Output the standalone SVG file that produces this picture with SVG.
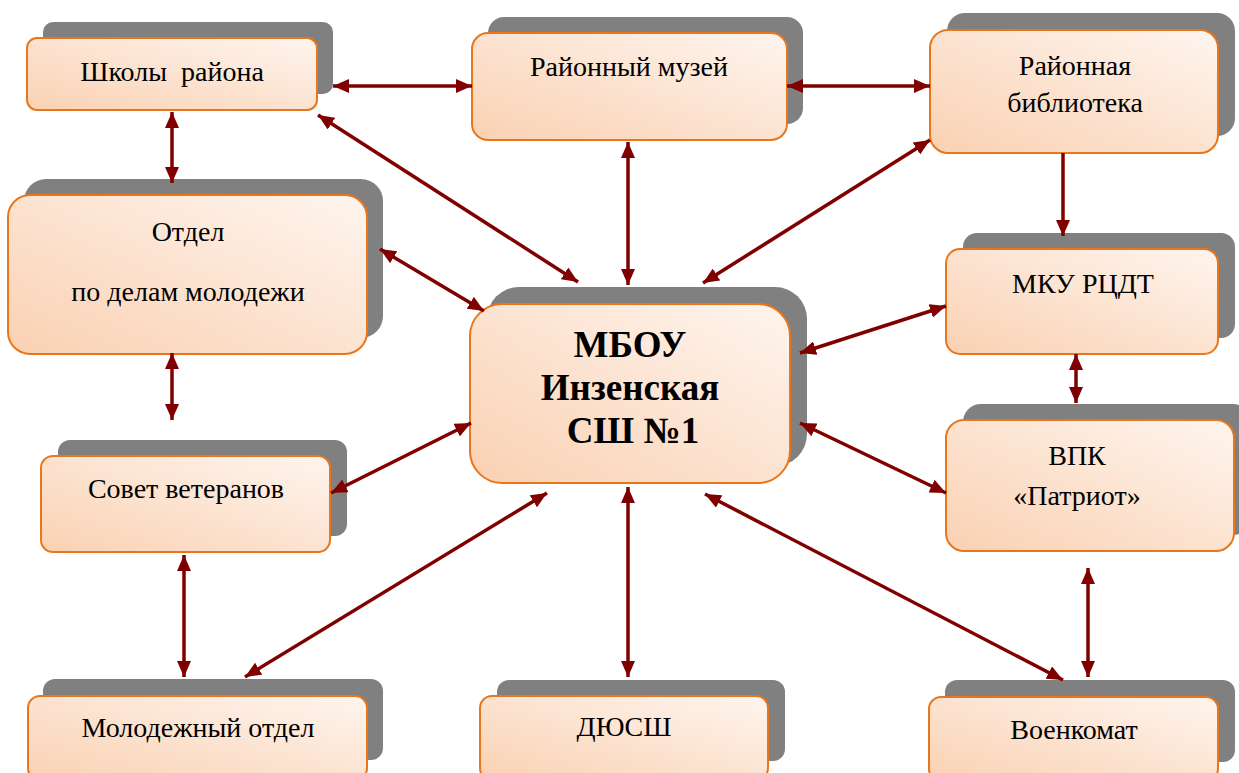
<svg xmlns="http://www.w3.org/2000/svg" width="1239" height="773" viewBox="0 0 1239 773">
<style>
.sh{fill:#808080}
.bx{fill:url(#g);stroke:#E8761C;stroke-width:2}
.t{font-family:"Liberation Serif","Times New Roman",serif;font-size:28px;fill:#000;text-anchor:middle;white-space:pre}
.tb{font-family:"Liberation Serif","Times New Roman",serif;font-size:37px;font-weight:bold;fill:#000;text-anchor:middle;white-space:pre}
.c line{stroke:#800000;stroke-width:3.5;marker-end:url(#ah)}
.c line.b{marker-start:url(#ah)}
</style>
<defs>
<linearGradient id="g" x1="0" y1="1" x2="1" y2="0">
<stop offset="0" stop-color="#FAD1B2"/>
<stop offset="1" stop-color="#FEF5EF"/>
</linearGradient>
<marker id="ah" viewBox="0 0 16 14" refX="16" refY="7" markerWidth="16" markerHeight="14" markerUnits="userSpaceOnUse" orient="auto-start-reverse">
<path d="M0,0 L16,7 L0,14 z" fill="#800000"/>
</marker>
</defs>
<rect width="1239" height="773" fill="#fff"/>

<g id="shkoly">
<rect class="sh" x="43" y="22" width="290" height="72" rx="10"/>
<rect class="bx" x="27" y="38" width="290" height="72" rx="10"/>
<text class="t" x="172" y="81" xml:space="preserve">Школы  района</text>
</g>
<g id="muzey">
<rect class="sh" x="488" y="17" width="315" height="107" rx="16"/>
<rect class="bx" x="472" y="33" width="315" height="107" rx="16"/>
<text class="t" x="629" y="76">Районный музей</text>
</g>
<g id="biblioteka">
<rect class="sh" x="947" y="13" width="288" height="123" rx="18"/>
<rect class="bx" x="930" y="30" width="288" height="123" rx="18"/>
<text class="t" x="1075" y="75">Районная</text>
<text class="t" x="1075" y="112">библиотека</text>
</g>
<g id="otdel">
<rect class="sh" x="24" y="179" width="359" height="159" rx="22"/>
<rect class="bx" x="8" y="195" width="359" height="159" rx="22"/>
<text class="t" x="188" y="241">Отдел</text>
<text class="t" x="188" y="301">по делам молодежи</text>
</g>
<g id="mbou">
<rect class="sh" x="487" y="287" width="320" height="179" rx="32"/>
<rect class="bx" x="470" y="304" width="320" height="179" rx="32"/>
<text class="tb" x="630" y="357">МБОУ</text>
<text class="tb" x="630" y="400">Инзенская</text>
<text class="tb" x="633" y="443">СШ №1</text>
</g>
<g id="mku">
<rect class="sh" x="963" y="233" width="272" height="105" rx="14"/>
<rect class="bx" x="946" y="249" width="272" height="105" rx="14"/>
<text class="t" x="1083" y="293">МКУ РЦДТ</text>
</g>
<g id="sovet">
<rect class="sh" x="58" y="440" width="289" height="96" rx="12"/>
<rect class="bx" x="41" y="456" width="289" height="96" rx="12"/>
<text class="t" x="186" y="498">Совет ветеранов</text>
</g>
<g id="vpk">
<rect class="sh" x="963" y="404" width="288" height="131" rx="18"/>
<rect class="bx" x="946" y="420" width="288" height="131" rx="18"/>
<text class="t" x="1077" y="465">ВПК</text>
<text class="t" x="1077" y="505">«Патриот»</text>
</g>
<g id="molodezhny">
<rect class="sh" x="43" y="679" width="340" height="81" rx="12"/>
<rect class="bx" x="28" y="696" width="339" height="84" rx="12"/>
<text class="t" x="198" y="737">Молодежный отдел</text>
</g>
<g id="dyussh">
<rect class="sh" x="497" y="680" width="288" height="81" rx="12"/>
<rect class="bx" x="480" y="696" width="288" height="84" rx="12"/>
<text class="t" x="624" y="736">ДЮСШ</text>
</g>
<g id="voenkomat">
<rect class="sh" x="945" y="680" width="290" height="82" rx="12"/>
<rect class="bx" x="929" y="697" width="289" height="84" rx="12"/>
<text class="t" x="1074" y="739">Военкомат</text>
</g>

<g id="connectors" class="c">
<line class="b" x1="333" y1="86" x2="472" y2="86"/>
<line class="b" x1="787" y1="86" x2="930" y2="86"/>
<line class="b" x1="318" y1="115" x2="578" y2="282"/>
<line class="b" x1="628" y1="142" x2="628" y2="285"/>
<line class="b" x1="930" y1="140" x2="703" y2="283"/>
<line x1="1063" y1="153" x2="1063" y2="236"/>
<line class="b" x1="172" y1="112" x2="172" y2="183"/>
<line class="b" x1="380" y1="249" x2="484" y2="311"/>
<line class="b" x1="172" y1="353" x2="172" y2="420"/>
<line class="b" x1="946" y1="306" x2="800" y2="353"/>
<line class="b" x1="1076" y1="354" x2="1076" y2="403"/>
<line class="b" x1="331" y1="493" x2="471" y2="423"/>
<line class="b" x1="800" y1="423" x2="946" y2="493"/>
<line class="b" x1="184" y1="555" x2="184" y2="677"/>
<line class="b" x1="547" y1="493" x2="245" y2="677"/>
<line class="b" x1="628" y1="487" x2="628" y2="677"/>
<line class="b" x1="705" y1="494" x2="1063" y2="680"/>
<line class="b" x1="1088" y1="568" x2="1088" y2="677"/>
</g>
</svg>
